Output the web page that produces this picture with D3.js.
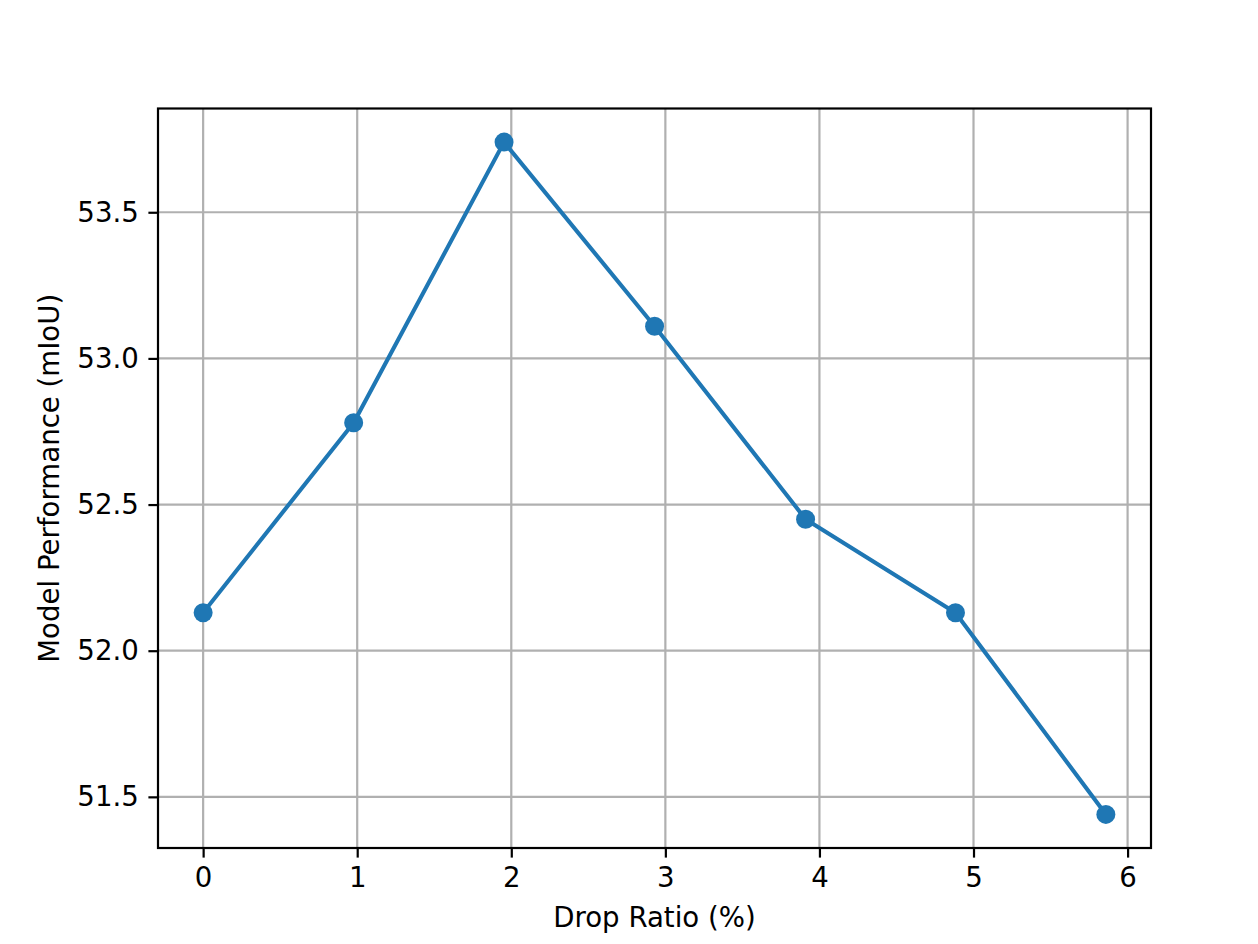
<!DOCTYPE html>
<html>
<head>
<meta charset="utf-8">
<script src="https://cdn.jsdelivr.net/npm/d3@7"></script>
<style>
  body { margin: 0; background: #fff; }
  svg text { font-family: "DejaVu Sans", sans-serif; fill: #000; }
</style>
</head>
<body>
<svg id="chart" width="1258" height="944"></svg>
<script>
const dropRatio = [0, 0.977, 1.953, 2.93, 3.91, 4.883, 5.859];
const mIoU = [52.13, 52.78, 53.74, 53.11, 52.45, 52.13, 51.44];
const xTicks = [0, 1, 2, 3, 4, 5, 6];
const yTicks = [51.5, 52.0, 52.5, 53.0, 53.5];
const xLabel = "Drop Ratio (%)";
const yLabel = "Model Performance (mIoU)";

const svg = d3.select("#chart");
const L = 158, R = 1151, T = 108.5, B = 848;
const fs = 27.6;

function padDomain(arr) {
  const [lo, hi] = d3.extent(arr);
  const m = (hi - lo) * 0.05;
  return [lo - m, hi + m];
}
const x = d3.scaleLinear().domain(padDomain(dropRatio)).range([L, R]);
const y = d3.scaleLinear().domain(padDomain(mIoU)).range([B, T]);

// grid
const grid = svg.append("g");
grid.selectAll("line.gx").data(xTicks).join("line")
  .attr("x1", d => x(d)).attr("x2", d => x(d)).attr("y1", T).attr("y2", B)
  .attr("stroke", "#b0b0b0").attr("stroke-width", 2.2);
grid.selectAll("line.gy").data(yTicks).join("line")
  .attr("y1", d => y(d)).attr("y2", d => y(d)).attr("x1", L).attr("x2", R)
  .attr("stroke", "#b0b0b0").attr("stroke-width", 2.2);

// axes
const xAxis = d3.axisBottom(x).tickValues(xTicks).tickFormat(d3.format("d")).tickSize(9.6).tickPadding(9.6);
const yAxis = d3.axisLeft(y).tickValues(yTicks).tickFormat(d3.format(".1f")).tickSize(9.6).tickPadding(9.6);
const gx = svg.append("g").attr("transform", `translate(0,${B})`).call(xAxis);
const gy = svg.append("g").attr("transform", `translate(${L},0)`).call(yAxis);
[gx, gy].forEach(g => {
  g.select(".domain").remove();
  g.selectAll(".tick line").attr("stroke", "#000").attr("stroke-width", 2.2);
  g.selectAll(".tick text").attr("font-size", fs).attr("font-family", "DejaVu Sans").attr("fill", "#000");
});

// line
svg.append("path")
  .datum(dropRatio.map((d, i) => [d, mIoU[i]]))
  .attr("fill", "none").attr("stroke", "#1f77b4").attr("stroke-width", 4.1)
  .attr("stroke-linejoin", "round").attr("stroke-linecap", "square")
  .attr("d", d3.line().x(d => x(d[0])).y(d => y(d[1])));

svg.selectAll("circle.pt").data(dropRatio.map((d, i) => [d, mIoU[i]])).join("circle")
  .attr("cx", d => x(d[0])).attr("cy", d => y(d[1])).attr("r", 9.5)
  .attr("fill", "#1f77b4");

// frame
svg.append("rect").attr("x", L).attr("y", T).attr("width", R - L).attr("height", B - T)
  .attr("fill", "none").attr("stroke", "#000").attr("stroke-width", 2.2);

// labels
svg.append("text").attr("x", (L + R) / 2).attr("y", 927).attr("text-anchor", "middle")
  .attr("font-size", fs).text(xLabel);
svg.append("text").attr("transform", `translate(59,${(T + B) / 2}) rotate(-90)`)
  .attr("text-anchor", "middle").attr("font-size", fs).text(yLabel);
</script>
</body>
</html>
